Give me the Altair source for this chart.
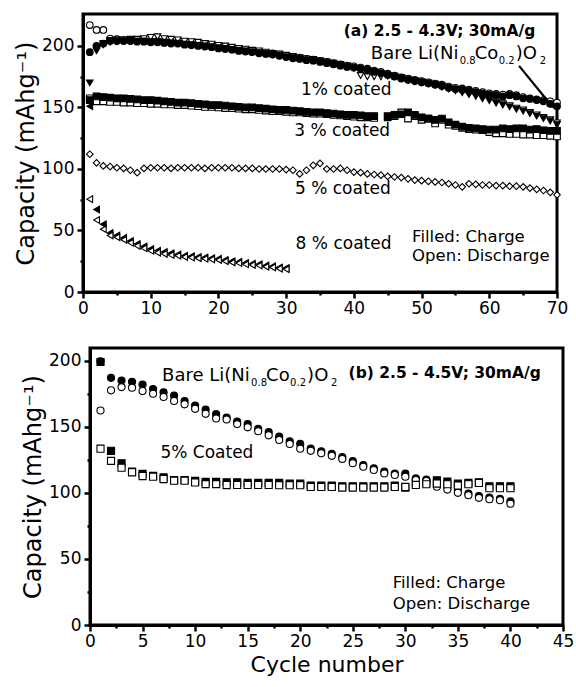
import altair as alt
import pandas as pd

# ---------------- Panel (a): 2.5 - 4.3 V ----------------
cycles_a = list(range(1, 71))
cycles_a_1pct_dis = list(range(2, 71))
cycles_a_8pct = list(range(1, 31))

bare_charge_a = [195, 200, 202, 204, 204, 204, 204, 203.5, 203.5, 203,
                 203, 202.5, 202, 202, 201, 200.5, 200, 199.5, 199, 198,
                 197.5, 197, 196, 195.5, 195, 194, 193.5, 193, 192, 191,
                 190, 189.5, 188.5, 188, 187, 186, 185, 184, 183, 182.5,
                 181.5, 180.5, 179, 178, 176.5, 175, 173.5, 172.5, 171.5, 170.5,
                 169.5, 168.5, 167.5, 166, 165, 164.5, 163.5, 162.5, 161.5, 160.5,
                 160, 159, 160, 159, 157.5, 157, 156, 155, 153, 151]
bare_discharge_a = [217, 213, 213, 206, 205.5, 205, 205, 204.5, 204.5, 204,
                    204, 203.5, 203, 203, 202, 201.5, 201, 200.5, 200, 199,
                    198.5, 198, 197, 196.5, 196, 195, 194.5, 194, 193, 192,
                    191, 190.5, 189.5, 189, 188, 187, 186, 185, 184, 183.5,
                    182.5, 181.5, 180, 179, 177.5, 176, 174.5, 173.5, 172.5, 171.5,
                    170.5, 169.5, 168.5, 167, 166, 165.5, 164.5, 163.5, 162.5, 161.5,
                    161, 160.5, 161, 160, 158.5, 157.5, 156.5, 156, 155, 154]
c1_charge_a = [170, 196, 201, 203, 204, 204, 204.5, 204, 204, 203.5,
               203.5, 203, 202.5, 202, 201.5, 201, 200.5, 200, 199, 198.5,
               198, 197, 196.5, 196, 195, 194.5, 193.5, 193, 192, 191,
               190.5, 189.5, 188.5, 188, 187, 186, 185, 184, 183, 182,
               181, 180, 179, 177.5, 176, 175, 173.5, 172, 171, 170,
               169, 168, 166.5, 165, 163.5, 162, 160.5, 159, 157, 155.5,
               153.5, 152, 150.5, 148.5, 147, 145, 143, 141, 139, 136]
c1_discharge_a = [198, 202, 204.5, 205, 205, 205.5, 205.5, 206, 207,
                  207.5, 206, 205.5, 205, 204, 203.5, 203, 202, 201.5, 200.5,
                  200, 199, 198, 197.5, 196.5, 196, 195, 194, 193.5, 192.5,
                  191.5, 190.5, 189.5, 189, 188, 187, 186,
                  185, 184, 182, 176, 175, 175, 175, 175.5, 175.5, 174.5,
                  173, 172, 171, 170, 169, 167.5, 166, 164.5, 163, 161.5,
                  160, 158, 156.5, 154.5, 153, 151.5, 149.5, 148, 146, 144,
                  142, 140, 137.5]
c3_charge_a = [156, 159, 158.5, 158, 157.5, 157.5, 157, 156.5, 156, 156,
               155.5, 155, 154.5, 154, 154, 153.5, 153, 152.5, 152, 152,
               151.5, 151, 150.5, 150, 150, 149.5, 149, 148.5, 148, 148,
               147.5, 147, 146.5, 146, 146, 145.5, 145, 144.5, 144, 144,
               143.5, 143, 143, None, 143, 144, 144.5, 146, 144, 142,
               141, 140, 141, 138, 136, 134.5, 133.5, 133, 132.5, 132,
               132, 133, 132.5, 133, 133, 132, 132.5, 131.5, 131, 131]
c3_discharge_a = [157.5, 155, 155, 154.5, 154.5, 154, 154, 153.5, 153.5, 153,
                  153, 152.5, 152.5, 152, 152, 151.5, 151, 150.5, 150.5, 150,
                  149.5, 149.5, 149, 148.5, 148.5, 148, 147.5, 147, 147, 146.5,
                  146, 146, 145.5, 145, 145, 144.5, 144, 143.5, 143, 142.5,
                  142, 142, 141.5, None, 142, 143, 146, 141, 143, 140,
                  141, 137, 140, 136, 135, 133.5, 132.5, 132, 131.5, 130,
                  129, 129, 128.5, 128.5, 128, 128, 127.5, 127.5, 127, 126.5]
c5_discharge_a = [112, 105, 102.5, 102, 101, 100.5, 99, 97, 100.5, 101,
                  101, 101, 100.5, 101, 101, 101, 101, 100.5, 101, 101,
                  101, 101, 100.5, 100.5, 100.5, 100, 100, 100, 100, 99.5,
                  99, 96, 99, 103, 104.5, 100, 100, 100.5, 99, 97.5,
                  97, 96, 95.5, 95, 94, 93.5, 93, 92, 91, 90.5,
                  90, 89.5, 89, 88, 87, 85.5, 88, 87.5, 87, 87,
                  86.5, 86.5, 86, 86, 85.5, 84.5, 83.5, 82.5, 81, 79]
c8_charge_a = [151, 67, 55, 48, 46, 44, 41.5, 39, 37, 35,
               33.5, 32.5, 31.5, 30.5, 29.5, 29, 28.5, 28, 27.5, 27,
               26, 25, 24.5, 23.5, 23, 22.5, 21.5, 21, 20, 19.5]
c8_discharge_a = [75.5, 58.5, 51, 46, 44.5, 42.5, 40, 37.5, 35.5, 33.5,
                  32, 31, 30, 29.5, 28.5, 28, 27.5, 27, 26.5, 26,
                  25, 24, 23.5, 22.5, 22, 21.5, 20.5, 20, 19, 18.5]

# ---------------- Panel (b): 2.5 - 4.5 V ----------------
cycles_b = list(range(1, 41))
bare_charge_b = [199.5, 187, 185, 184, 182, 178.5, 176, 173.5, 169.5, 166,
                 163, 159.5, 157, 154, 152, 148.5, 146, 142.5, 139, 137,
                 133.5, 131.5, 129.5, 127, 124, 121, 118.5, 116, 114.5, 114.5,
                 111, 110, 106, 104, 101.5, 99.5, 97.5, 96.5, 95.5, 93.5]
bare_discharge_b = [162.3, 177.6, 180, 179.6, 177, 175, 172.5, 169.5, 167, 163.6,
                    159.8, 156.3, 155.5, 152, 149.6, 146.6, 143.5, 140, 137, 133.4,
                    131.8, 130, 128, 125.7, 122.4, 119.8, 117.3, 114.7, 113.5, 112.2,
                    109.7, 108.9, 104.6, 102.5, 100, 98.2, 96.2, 95.2, 94.4, 91.8]
c5_charge_b = [199, 131.8, 122.4, 116, 114.3, 112.8, 111.7, 109.7, 109.7, 109,
               108.3, 108.3, 108, 108, 107.5, 107.5, 107.5, 107.5, 107, 107,
               105.5, 105.5, 105.5, 105, 105, 105, 105, 105, 105.5, 104,
               108, 107.5, 109.5, 108.5, 107, 107.5, 108, 105, 105, 105]
c5_discharge_b = [133.4, 124.2, 119, 115.5, 112.7, 112.2, 110.4, 109.2, 109.2, 107.9,
                  106.6, 106.6, 105.9, 106, 106, 106, 106, 105.8, 105.8, 105.8,
                  104.5, 104.5, 104.5, 104, 104, 104, 104, 104, 104.5, 104.5,
                  106, 106.5, 107, 106.5, 105.5, 106.5, 107.5, 103.5, 103.5, 103.5]

series_names = ["bare (a)", "1% (a)", "3% (a)", "5% (a)", "8% (a)", "bare (b)", "5% (b)"]
series_shapes = ["circle", "triangle-down", "square", "diamond", "triangle-left",
                 "circle", "square"]


def rows(series, kind, cycles, values):
    return [{"cycle": c, "capacity": v, "series": series, "kind": kind}
            for c, v in zip(cycles, values) if v is not None]


# panel (a): drawing order as in the original figure
df_a = pd.DataFrame(
    rows("bare (a)", "discharge", cycles_a, bare_discharge_a)
    + rows("1% (a)", "discharge", cycles_a_1pct_dis, c1_discharge_a)
    + rows("3% (a)", "discharge", cycles_a, c3_discharge_a)
    + rows("5% (a)", "discharge", cycles_a, c5_discharge_a)
    + rows("bare (a)", "charge", cycles_a, bare_charge_a)
    + rows("1% (a)", "charge", cycles_a, c1_charge_a)
    + rows("3% (a)", "charge", cycles_a, c3_charge_a)
    + rows("8% (a)", "charge", cycles_a_8pct, c8_charge_a)
    + rows("8% (a)", "discharge", cycles_a_8pct, c8_discharge_a)
)
# panel (b): filled (charge) first, open (discharge) drawn on top
df_b = pd.DataFrame(
    rows("bare (b)", "charge", cycles_b, bare_charge_b)
    + rows("5% (b)", "charge", cycles_b, c5_charge_b)
    + rows("bare (b)", "discharge", cycles_b, bare_discharge_b)
    + rows("5% (b)", "discharge", cycles_b, c5_discharge_b)
)

FONT = "DejaVu Sans"
YTITLE = "Capacity (mAhg\u207b\u00b9)"


def x_enc(dmax, step, major, title):
    kw = dict(
        values=[i * step for i in range(int(round(dmax / step)) + 1)],
        labelExpr=f"datum.value % {major} === 0 ? datum.label : ''",
        tickSize={"condition": {"test": f"datum.value % {major} === 0", "value": 6}, "value": 3},
        labelFlush=False, labelOverlap=False, grid=False, labelPadding=2,
    )
    if title:
        kw.update(title=title, titleFontSize=22, titleFontWeight="normal", titlePadding=5)
    else:
        kw.update(title=None)
    return alt.X("cycle:Q", scale=alt.Scale(domain=[0, dmax], nice=False, zero=False),
                 axis=alt.Axis(**kw))


def y_enc(dmax):
    return alt.Y("capacity:Q", scale=alt.Scale(domain=[0, dmax], nice=False),
                 axis=alt.Axis(values=list(range(0, 201, 25)),
                               labelExpr="datum.value % 50 === 0 ? datum.label : ''",
                               tickSize={"condition": {"test": "datum.value % 50 === 0", "value": 6}, "value": 3},
                               labelOverlap=False, grid=False, labelPadding=3,
                               title=YTITLE, titleFontSize=24, titleFontWeight="normal",
                               titlePadding=3))


def text_layer(xe, ye, cx, cy, txt, size=17, weight="normal", dx=0, dy=0):
    d = pd.DataFrame({"cycle": [cx], "capacity": [cy], "t": [txt]})
    return alt.Chart(d).mark_text(align="left", baseline="middle", font=FONT,
                                  fontSize=size, fontWeight=weight, dx=dx, dy=dy,
                                  color="black").encode(x=xe, y=ye, text="t:N")


def bare_label(xe, ye, cx, cy):
    pieces = [("Bare Li(Ni", 18, 0, 0), ("0.8", 10, 89, 7), ("Co", 18, 104, 0),
              ("0.2", 10, 128, 7), (")O", 18, 145, 0), ("2", 10, 169, 7)]
    return [text_layer(xe, ye, cx, cy, t, size=s, dx=dx, dy=dy) for t, s, dx, dy in pieces]


def points(df, xe, ye, size):
    return alt.Chart(df).mark_point(filled=True, stroke="black", strokeWidth=1.1,
                                    size=size, opacity=1).encode(
        x=xe, y=ye,
        shape=alt.Shape("series:N", scale=alt.Scale(domain=series_names, range=series_shapes),
                        legend=None),
        fill=alt.Fill("kind:N", scale=alt.Scale(domain=["charge", "discharge"],
                                                range=["black", "white"]), legend=None),
    )


# ---------------- top chart ----------------
xa = x_enc(70, 5, 10, None)
ya = y_enc(226)
arrow_a = pd.DataFrame({"cycle": [64.4], "capacity": [183.8], "cycle2": [68.9], "cap2": [153.5]})
arrow_head = pd.DataFrame({"cycle": [69.2], "capacity": [151.5]})
top_layers = [
    points(df_a, xa, ya, 44),
    alt.Chart(arrow_a).mark_rule(color="black", strokeWidth=2.2).encode(
        x=xa, y=ya, x2="cycle2:Q", y2="cap2:Q"),
    alt.Chart(arrow_head).mark_point(shape="triangle-down", filled=True, color="black",
                                     size=70, angle=320, opacity=1).encode(x=xa, y=ya),
    text_layer(xa, ya, 38.5, 212.5, "(a) 2.5 - 4.3V; 30mA/g", size=15.5, weight="bold"),
    *bare_label(xa, ya, 42.5, 193.5),
    text_layer(xa, ya, 32.2, 164, "1% coated"),
    text_layer(xa, ya, 31.2, 131, "3 % coated"),
    text_layer(xa, ya, 31.3, 84, "5 % coated"),
    text_layer(xa, ya, 31.4, 38.7, "8 % coated"),
    text_layer(xa, ya, 48.6, 45, "Filled: Charge", size=16.5),
    text_layer(xa, ya, 48.6, 29, "Open: Discharge", size=16.5),
]
top = alt.layer(*top_layers).properties(width=474, height=278)

# ---------------- bottom chart ----------------
xb = x_enc(45, 2.5, 5, "Cycle number")
yb = y_enc(209.6)
bottom_layers = [
    points(df_b, xb, yb, 50),
    text_layer(xb, yb, 24.6, 191, "(b) 2.5 - 4.5V; 30mA/g", size=15.5, weight="bold"),
    *bare_label(xb, yb, 6.86, 188.6),
    text_layer(xb, yb, 6.7, 129.8, "5% Coated"),
    text_layer(xb, yb, 28.8, 31.8, "Filled: Charge", size=16.5),
    text_layer(xb, yb, 28.8, 16, "Open: Discharge", size=16.5),
]
bottom = alt.layer(*bottom_layers).properties(width=473, height=277)


def spacer():
    return alt.Chart(pd.DataFrame({"s": [0]})).mark_point(opacity=0, size=1).encode(
        x=alt.value(0), y=alt.value(0)
    ).properties(width=1, height=1, view=alt.ViewBackground(strokeOpacity=0, fillOpacity=0))


top_row = alt.hconcat(spacer(), top, spacing=0)
bottom_row = alt.hconcat(spacer(), bottom, spacing=7)

chart = alt.vconcat(top_row, bottom_row, spacing=28).properties(
    padding={"left": 11, "top": 12, "right": 0, "bottom": 0},
    background="white",
).configure_view(stroke="black", strokeWidth=3).configure_axis(
    labelFont=FONT, titleFont=FONT, labelFontSize=17, labelColor="black",
    titleColor="black", domainColor="black", domainWidth=3, tickColor="black",
    tickWidth=2.5,
)

chart.save("out.html", embed_options={"renderer": "svg", "actions": False})
